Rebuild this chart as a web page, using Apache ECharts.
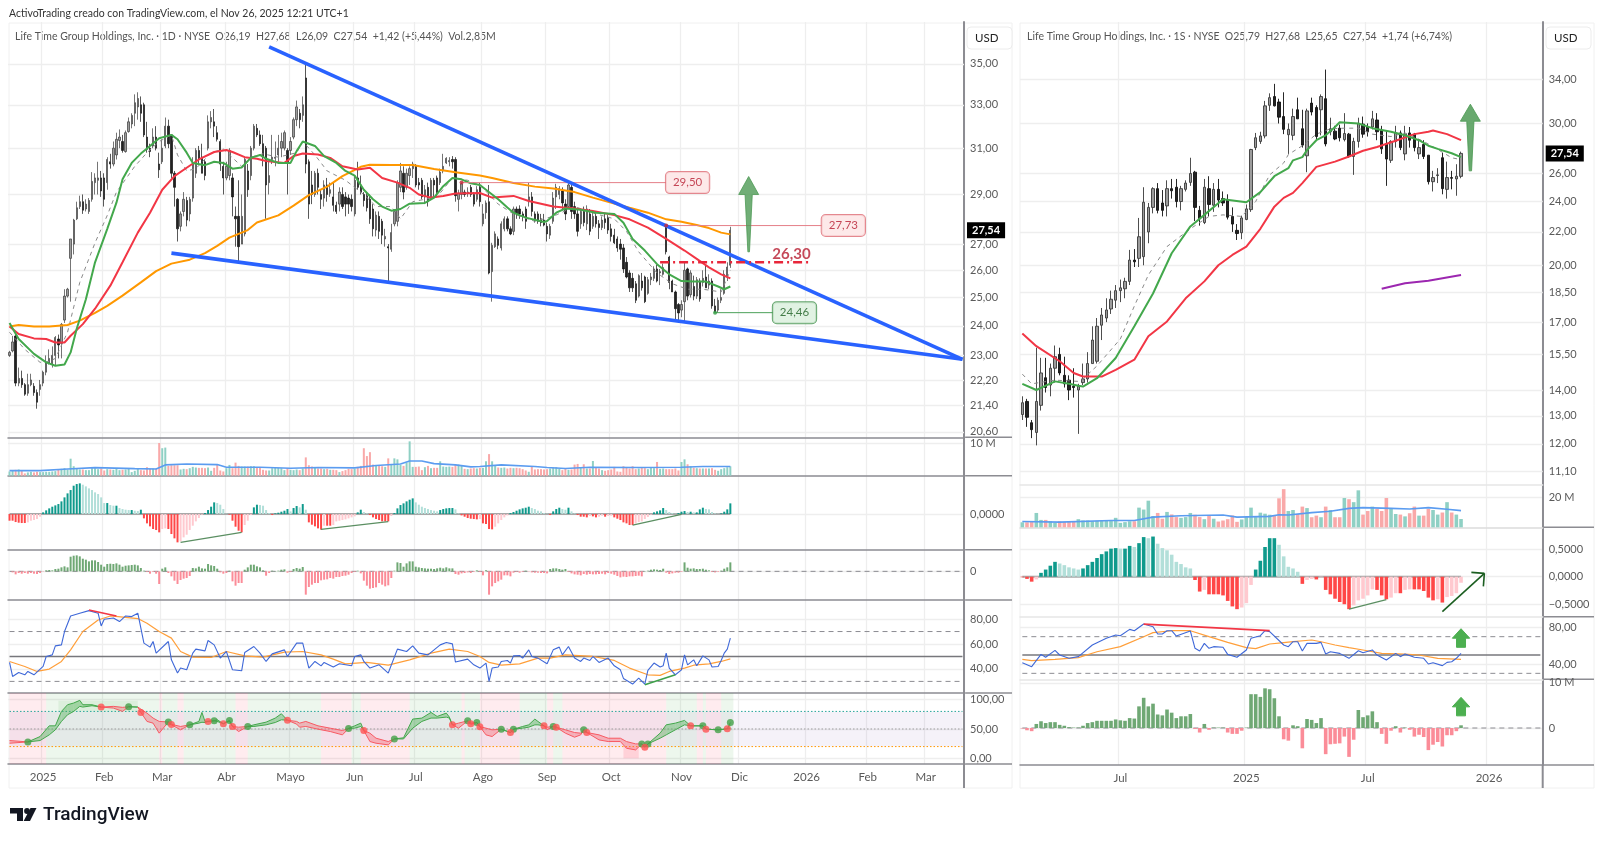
<!DOCTYPE html>
<html><head><meta charset="utf-8"><style>html,body{margin:0;padding:0;background:#fff}#c{width:1600px;height:841px}</style>
<script src="https://cdn.jsdelivr.net/npm/echarts@6/dist/echarts.min.js"></script></head><body><div id="c"></div>
<script>
// ---------- DAILY CHART DATA ([open, close, low, high]) ----------
const dailyCandles = [
[23.0,23.1,22.95,23.15],[23.15,23.45,23.1,23.65],[23.65,22.1,22.0,23.7],[22.1,22.25,22.0,22.6],[22.25,22.05,21.95,22.5],[22.05,21.75,21.7,22.1],[21.78,22.05,21.7,22.4],[22.05,22.2,22.0,22.4],[22.0,21.8,21.7,22.1],[21.8,21.5,21.3,21.9],
[21.9,22.05,21.7,22.2],[22.1,22.45,22.0,22.5],[22.45,22.75,22.35,23.0],[22.75,22.9,22.7,23.2],[22.7,23.0,22.6,23.3],[23.0,23.6,22.65,23.65],[23.55,23.35,22.9,23.7],[23.4,24.05,22.9,24.1],[24.2,25.05,24.1,25.3],[25.05,25.3,25.0,25.35],
[26.45,27.2,24.85,27.2],[27.0,27.95,26.6,28.0],[28.0,28.45,27.95,28.7],[28.5,28.7,28.4,28.95],[28.7,28.35,28.2,29.0],[28.4,28.6,28.3,28.8],[28.3,28.75,28.2,28.85],[28.8,29.55,28.7,29.95],[29.5,29.7,29.0,29.9],[29.6,29.7,29.0,30.4],
[29.7,29.15,28.9,30.0],[29.7,28.8,28.5,29.9],[29.5,30.5,29.2,30.6],[30.4,30.3,30.1,30.75],[30.3,31.0,30.2,31.3],[30.7,31.4,30.5,31.7],[31.35,31.5,31.0,31.85],[31.3,30.9,30.8,31.6],[30.85,31.7,30.8,31.8],[31.75,32.2,31.7,32.4],
[32.1,32.5,31.9,32.6],[32.6,33.1,32.0,33.5],[32.9,33.3,32.3,33.6],[33.0,32.6,32.2,33.4],[33.0,31.6,31.5,33.1],[31.5,30.95,30.8,32.2],[31.0,30.85,30.6,31.2],[31.1,31.5,31.0,31.9],[31.5,31.0,30.9,32.0],[30.3,30.05,29.7,30.8],
[30.4,31.0,30.3,31.4],[31.1,32.0,31.0,32.4],[32.0,31.2,31.0,32.3],[31.6,29.9,29.7,31.6],[29.9,29.3,28.5,30.0],[28.8,27.6,27.1,28.85],[27.7,28.2,27.5,28.3],[28.3,28.8,28.1,29.1],[28.75,27.95,27.7,28.9],[28.2,28.8,27.9,28.9],
[28.85,30.3,28.7,30.6],[29.9,30.9,29.7,31.0],[30.9,30.5,30.3,31.1],[30.6,29.9,29.9,31.2],[30.4,29.8,29.6,30.5],[31.0,32.2,30.9,32.5],[32.2,32.4,31.9,32.7],[32.2,32.0,31.5,32.8],[31.7,31.4,31.3,32.0],[31.3,30.3,30.0,31.4],
[30.2,29.7,29.0,30.4],[29.7,30.2,29.6,30.4],[29.8,30.9,29.6,31.0],[29.7,28.9,28.1,29.9],[28.1,28.0,26.9,28.5],[28.1,26.9,26.3,29.6],[27.0,28.1,27.0,29.0],[27.4,30.5,27.3,30.6],[30.0,29.2,28.9,30.3],[29.8,31.0,29.6,31.1],
[31.0,32.0,30.9,32.1],[31.9,31.6,31.5,32.1],[31.6,31.2,31.1,31.8],[31.2,30.6,30.2,31.6],[31.0,29.4,28.0,31.1],[29.5,29.8,29.0,30.4],[30.5,30.6,30.3,31.6],[30.55,30.6,30.2,31.3],[30.7,31.0,30.4,31.6],[31.0,31.3,30.6,31.7],
[31.0,31.7,30.9,31.8],[30.9,30.4,29.0,31.0],[30.9,31.3,30.7,31.5],[31.5,32.3,31.4,32.4],[32.3,32.9,32.0,33.2],[32.6,32.3,31.9,32.8],[32.5,33.0,32.2,33.4],[34.3,30.3,29.9,35.0],[30.4,28.6,28.0,30.5],[29.4,29.0,28.6,30.0],
[29.0,29.9,28.9,30.0],[29.9,29.3,29.0,30.1],[29.0,28.8,28.4,29.2],[28.85,29.4,28.5,29.6],[29.4,29.0,28.7,29.7],[29.05,29.2,28.9,29.5],[28.9,28.55,28.3,29.5],[28.55,28.3,28.2,28.7],[28.6,29.1,28.3,29.3],[29.0,28.5,28.4,29.3],
[28.9,28.6,28.1,29.1],[28.85,28.6,28.2,29.0],[28.8,28.5,28.3,29.0],[28.2,29.6,28.1,29.8],[29.7,29.3,29.2,30.4],[29.4,29.1,29.0,29.8],[29.0,28.75,28.5,29.1],[28.95,28.45,28.3,29.1],[28.8,28.0,27.8,29.0],[28.4,27.6,27.3,28.6],
[27.55,28.15,27.3,28.3],[28.1,27.5,27.2,28.3],[27.9,27.35,27.0,28.0],[27.2,27.3,26.9,27.6],[26.9,26.85,25.6,27.0],[26.8,27.45,26.7,27.8],[27.8,28.3,27.7,28.4],[27.9,29.5,27.7,29.6],[29.3,30.0,29.1,30.35],[29.9,29.1,28.8,30.2],
[29.3,29.9,29.2,30.1],[29.8,30.1,29.4,30.2],[30.1,30.3,29.7,30.4],[30.2,29.4,29.3,30.3],[29.5,29.4,29.2,29.7],[29.6,28.9,28.8,29.7],[28.9,29.2,28.6,29.4],[29.3,28.7,28.5,29.5],[28.85,29.6,28.8,29.7],[29.6,29.4,28.9,29.7],
[29.7,29.1,28.9,29.8],[29.5,29.95,29.4,30.1],[30.0,30.2,29.9,30.75],[30.35,30.55,30.3,30.6],[30.4,30.45,30.2,30.6],[30.5,30.4,30.1,30.65],[30.5,28.95,28.7,30.6],[28.8,29.05,28.3,29.2],[29.0,29.45,28.8,29.5],[29.1,29.0,28.9,29.2],
[29.05,29.1,28.9,29.3],[29.3,29.0,28.9,29.4],[29.0,28.6,28.5,29.1],[28.8,29.2,28.7,29.35],[29.3,28.7,28.5,29.5],[27.8,28.2,27.7,28.6],[28.25,28.65,28.0,28.75],[28.7,25.9,25.85,29.4],[25.95,26.95,24.85,27.05],[26.9,27.4,26.85,27.5],
[27.2,26.95,26.8,27.3],[26.85,27.8,26.75,27.9],[27.6,28.0,27.5,28.1],[28.0,27.6,27.5,28.1],[27.6,27.4,27.35,27.7],[27.5,28.4,27.35,28.5],[28.4,28.2,28.0,28.5],[28.4,28.2,28.0,28.55],[28.2,28.1,27.9,28.3],[28.4,27.9,27.6,28.5],
[28.7,28.9,28.5,29.5],[28.9,28.3,28.1,29.1],[28.2,28.0,27.85,28.3],[28.2,27.9,27.8,28.3],[28.0,27.85,27.7,28.2],[27.95,27.75,27.7,28.2],[27.7,27.4,27.1,27.85],[27.35,27.7,27.2,27.8],[27.9,28.85,27.8,29.1],[28.9,29.3,28.4,29.45],
[29.0,29.25,28.8,29.35],[29.15,28.65,28.4,29.3],[28.6,28.2,27.95,28.8],[28.5,29.4,28.4,29.5],[29.3,28.3,28.0,29.4],[28.5,28.2,28.0,28.7],[28.2,27.5,27.3,28.4],[27.8,28.3,27.6,28.4],[28.3,27.85,27.7,28.5],[27.8,28.4,27.55,28.55],
[28.2,27.5,27.35,28.4],[27.7,28.1,27.6,28.3],[28.1,27.8,27.65,28.3],[27.8,27.65,27.2,27.95],[27.65,27.95,27.55,28.1],[28.0,27.85,27.6,28.2],[28.05,27.55,27.4,28.15],[27.6,27.3,27.1,27.8],[27.35,27.05,27.0,27.6],[27.2,26.85,26.7,27.3],
[27.0,26.8,26.4,27.2],[26.85,26.05,25.9,27.0],[26.3,25.75,25.7,26.5],[25.9,25.35,25.2,26.0],[25.7,25.35,25.2,25.9],[25.5,24.9,24.8,25.6],[25.05,25.8,25.0,25.85],[25.6,25.35,25.25,25.9],[25.75,24.85,24.8,25.8],[25.15,25.65,25.1,25.75],
[25.65,25.75,25.45,25.9],[25.7,26.05,25.6,26.15],[26.05,25.6,25.55,26.2],[25.9,25.95,25.45,26.05],[25.85,26.1,25.8,26.25],[27.7,26.7,26.6,27.73],[26.5,25.55,25.3,26.55],[25.6,25.2,25.2,25.65],[25.2,24.6,24.2,25.25],[24.75,24.45,24.1,24.8],
[24.55,24.75,24.3,24.9],[24.85,26.0,24.15,26.3],[26.05,25.05,24.9,26.1],[25.1,25.9,25.0,26.0],[25.4,25.05,24.9,25.8],[25.05,25.65,24.95,25.75],[25.6,24.95,24.85,25.7],[25.55,25.7,25.4,26.0],[25.75,25.35,25.35,26.2],[25.45,25.6,25.3,25.85],
[25.6,24.7,24.6,25.7],[24.7,24.5,24.46,24.95],[24.55,24.9,24.46,25.0],[24.9,25.0,24.8,25.3],[25.15,25.85,25.1,26.0],[25.75,26.12,25.6,26.3],[26.19,27.54,26.09,27.68]];

const dailyVolumeM = [
1.3,1.6,1.8,1.9,1.5,0.7,1.0,1.2,1.0,1.2, 1.1,1.1,1.2,1.2,1.3,1.4,1.8,2.1,2.3,1.9,
5.2,2.9,2.3,1.9,1.9,1.7,1.7,2.3,2.3,2.0, 2.2,1.6,2.0,1.9,1.8,2.3,1.7,1.8,1.9,2.1,
1.1,1.5,2.3,1.7,1.6,2.6,2.1,2.2,2.2,10.0, 8.4,8.6,3.0,3.2,3.2,3.2,1.9,2.1,2.0,2.3,
2.7,2.5,2.4,2.4,2.3,2.5,1.5,2.4,3.4,1.6, 1.3,2.3,3.3,2.3,4.0,3.0,2.8,2.8,2.8,2.9,
2.9,2.4,2.6,1.8,1.6,1.6,2.3,2.5,2.4,2.3, 1.7,2.3,1.8,1.7,1.9,1.7,2.2,5.6,3.2,2.8,
2.4,2.2,2.2,2.0,2.1,1.8,1.8,1.7,1.1,1.4, 1.7,2.1,2.0,2.1,2.7,3.0,8.4,6.0,7.2,3.4,
3.2,3.0,2.9,2.7,5.3,3.6,5.3,5.0,3.3,3.0, 4.0,10.5,2.7,2.7,2.8,1.7,2.6,3.0,2.3,2.4,
2.4,4.4,2.8,2.7,2.8,2.7,3.4,3.4,3.0,2.1, 2.0,2.2,2.3,2.2,2.4,2.4,4.4,6.6,4.4,3.1,
2.5,2.4,2.5,2.2,2.4,2.3,2.4,2.3,2.0,1.6, 1.2,2.7,1.9,2.0,2.0,1.9,2.0,2.2,2.5,2.6,
2.1,1.7,2.2,1.8,1.9,3.4,3.6,2.6,3.5,2.2, 2.2,4.5,2.4,2.2,1.7,1.5,1.7,1.9,2.7,1.3,
1.2,2.9,2.5,2.2,2.9,2.0,2.2,2.4,2.3,2.0, 2.6,2.3,4.2,2.1,2.2,2.0,2.0,2.0,2.2,1.6,
4.2,5.0,3.5,2.9,2.4,2.3,2.2,2.2,2.2,2.2, 2.3,1.8,1.5,2.0,2.3,2.6,2.85];

const dailyMomentum = [
-20,-20,-24,-26,-27,-27,-25,-20,-18,-15, -8,5,11,17,22,26,30,38,50,62,
72,85,90,92,88,83,77,72,65,60, 50,33,33,27,25,25,18,15,13,12,
12,10,9,13,-13,-28,-37,-45,-48,-55, -45,-43,-45,-60,-73,-85,-82,-70,-62,-48,
-35,-22,-12,-2,3,12,22,35,33,28, 15,1,-2,-20,-38,-50,-55,-33,-20,-3,
20,28,27,25,12,3,-3,2,4,7, 10,15,8,18,24,20,30,13,-25,-32,
-37,-43,-47,-35,-35,-35,-33,-22,-20,-18, -16,-13,-10,-7,5,13,6,2,-3,-10,
-15,-18,-22,-22,-22,-6,3,17,27,32, 38,43,47,35,28,22,18,15,12,10,
8,12,15,17,18,18,14,2,-4,-8, -12,-14,-15,-16,-15,-28,-30,-45,-46,-38,
-28,-18,-10,-4,3,6,10,14,17,19, 22,18,15,10,8,3,1,-3,8,15,
19,15,13,19,8,2,-3,-8,-8,-10, -6,-7,-10,-8,-5,-8,-6,-5,-10,-14,
-18,-25,-28,-33,-33,-28,-24,-22,-15,-9, -2,5,8,11,18,12,6,3,1,3,
7,9,6,7,5,5,14,19,15,14, 6,2,1,2,7,14,32];

const dailyOscillator = [
0,-3,-9,-5,-7,-5,-7,-5,-7,-8, -5,-1,3,4,3,7,8,12,15,12,
44,47,48,45,38,35,30,33,33,28, 20,14,22,23,22,24,20,14,17,18,
19,20,18,10,2,-2,-7,-2,-7,-38, 8,12,-5,-15,-28,-38,-26,-22,-20,-14,
10,9,14,9,8,22,18,16,8,-3, -7,-5,2,-30,-43,-35,-35,5,12,20,
20,15,12,3,-13,-5,2,1,2,5, 6,-4,-2,7,10,8,13,-70,-47,-40,
-35,-35,-27,-25,-24,-20,-22,-17,-17,-14, -13,-10,-5,-2,2,-6,-28,-43,-52,-50,
-48,-35,-40,-45,-42,-20,2,27,25,14, 24,30,30,14,12,10,9,8,8,7,
9,11,9,12,9,9,-8,-10,-6,-5, -3,-5,-2,3,-2,-12,3,-70,-45,-35,
-30,-25,-12,-12,-15,-4,-2,-4,-2,2, -1,-3,-4,-4,-5,-5,-6,7,9,9,
7,5,7,-2,-6,-9,-10,-12,-8,-10, -8,-9,-9,-8,-7,-9,-5,-7,-10,-14,
-18,-16,-17,-15,-15,-14,-13,-15,1,2, 5,6,5,4,8,-4,-8,-6,-4,-4,
-2,27,11,8,9,7,7,8,5,3, -2,-3,-2,2,8,12,27];

// moving averages: sparse [bar, price] vertices
const dailyGreenMA = [[0,24.1],[3,23.55],[8,23.05],[12,22.77],[15,22.66],[18,22.7],[20,23.1],[22,23.9],[25,24.94],[28,26.3],[32,27.6],[35,28.66],[37,29.64],[40,30.35],[43,30.76],[46,31.1],[49,31.45],[53,31.6],[55,31.4],[58,30.8],[60,30.35],[64,30.25],[67,30.4],[70,30.35],[73,30.1],[76,30.15],[79,30.57],[82,30.7],[84,30.53],[88,30.35],[92,30.35],[94,30.87],[96,31.3],[100,31.1],[103,30.65],[107,30.35],[110,30.0],[113,29.8],[116,29.2],[119,28.8],[122,28.5],[125,28.33],[128,28.4],[131,28.62],[136,28.65],[139,28.87],[142,29.35],[145,29.7],[148,29.64],[151,29.47],[154,29.4],[156,29.2],[160,28.8],[163,28.46],[165,28.25],[169,28.05],[175,27.87],[176,27.91],[179,28.25],[182,28.42],[187,28.37],[192,28.25],[198,28.2],[201,27.84],[204,27.2],[208,26.75],[212,26.23],[216,25.85],[220,25.6],[224,25.58],[228,25.58],[232,25.4],[234,25.3],[236,25.4]];
const dailyRedMA = [[0,23.98],[3,23.72],[8,23.57],[12,23.55],[15,23.43],[18,23.43],[20,23.66],[24,24.06],[28,24.6],[33,25.43],[37,26.3],[42,27.45],[46,28.25],[50,29.2],[54,29.78],[58,30.14],[62,30.5],[67,30.83],[71,30.92],[73,30.83],[77,30.6],[81,30.53],[84,30.43],[90,30.35],[93,30.65],[96,30.76],[101,30.72],[105,30.57],[109,30.2],[114,30.06],[118,30.14],[122,29.7],[127,29.5],[131,29.28],[134,29.0],[138,28.87],[142,28.94],[146,29.04],[154,29.06],[158,28.87],[165,28.94],[170,28.73],[178,28.5],[185,28.42],[191,28.32],[198,28.15],[203,27.98],[209,27.65],[215,27.2],[221,26.75],[225,26.43],[229,26.11],[233,25.85],[236,25.7]];
const dailyOrangeMA = [[0,23.98],[3,24.03],[8,23.98],[13,23.98],[19,24.03],[23,24.18],[28,24.45],[32,24.7],[37,25.07],[43,25.55],[48,25.97],[53,26.25],[59,26.4],[64,26.65],[68,26.93],[72,27.25],[78,27.55],[81,27.85],[88,28.14],[93,28.54],[98,28.97],[104,29.33],[109,29.78],[115,30.18],[118,30.27],[125,30.26],[132,30.26],[139,30.08],[146,29.94],[154,29.8],[158,29.7],[165,29.48],[172,29.33],[178,29.25],[185,29.1],[191,28.87],[198,28.62],[203,28.45],[209,28.25],[215,27.98],[220,27.88],[225,27.75],[229,27.63],[233,27.45],[236,27.38]];
const dailyGreyMA = [[0,23.78],[5,23.2],[10,22.77],[13,22.8],[15,22.9],[19,23.78],[23,25.55],[28,27.05],[32,28.14],[35,29.1],[41,30.2],[45,30.8],[49,31.3],[53,31.6],[55,30.7],[58,30.0],[61,30.1],[66,30.8],[70,30.96],[76,30.2],[79,30.6],[83,30.75],[88,30.6],[94,30.8],[96,31.3],[100,30.7],[104,30.0],[110,29.6],[116,29.0],[120,28.5],[125,28.5],[128,28.0],[132,28.7],[140,28.9],[145,29.7],[150,29.6],[154,29.4],[160,28.6],[165,28.2],[172,27.9],[178,28.1],[185,28.5],[192,28.2],[198,28.0],[202,27.5],[206,26.7],[212,25.9],[217,25.5],[222,25.3],[227,25.3],[233,25.2],[236,26.0]];
const dailyVolumeMA = [[0,1.55],[10,1.55],[19,2.06],[28,2.47],[41,2.16],[48,2.06],[51,3.3],[58,3.6],[68,3.4],[71,2.6],[82,2.6],[92,2.3],[101,2.5],[113,2.4],[120,3.1],[128,3.6],[131,4.5],[135,4.5],[139,3.7],[146,3.3],[151,2.7],[154,2.8],[161,3.3],[172,2.8],[176,2.5],[182,2.2],[190,2.6],[206,2.5],[220,2.6],[227,2.8],[236,2.8]];

const dailyRsi = [[0,45.2],[1,34],[3,37.2],[5,35.3],[6,38],[8,35.3],[11,42],[12,50],[14,51.3],[15,58.5],[17,59.3],[18,70],[20,82.5],[23,84.7],[26,86.8],[29,84.7],[30,74.5],[31,79.9],[34,80.9],[36,78],[38,82.5],[40,82],[42,84.7],[44,60.7],[46,57.5],[47,62],[48,52.7],[52,62],[53,47.3],[55,36.7],[56,40.7],[58,39.3],[60,52.7],[61,55.9],[64,54.5],[65,62.8],[67,59.3],[69,48.7],[71,54],[73,39.3],[76,38.5],[77,53.2],[80,58],[82,52.7],[84,46],[86,52.1],[90,55.3],[91,50],[94,60.7],[96,60.7],[98,40.7],[100,46],[102,42.5],[103,45.2],[106,41.5],[108,44.1],[112,42.5],[113,50],[115,51.3],[116,46],[118,40.7],[121,43.3],[124,36.7],[127,55.9],[130,54],[132,58.5],[134,52.7],[137,51.3],[141,59.3],[143,61.2],[145,60.1],[146,45.5],[150,47.9],[152,43.3],[154,40.7],[156,44.7],[157,30],[158,40.7],[160,41.5],[161,46],[163,46.8],[164,44.7],[165,50.5],[167,50.8],[168,48.7],[170,55.3],[171,50],[173,48.7],[176,44.1],[178,55.3],[180,57.5],[181,51.3],[183,58],[185,48.7],[187,46],[188,48.7],[190,46.8],[191,50],[193,45.2],[196,48.7],[198,42.5],[200,39.3],[201,32.4],[204,27.9],[206,32.7],[208,27.9],[209,38.8],[211,44.7],[213,41.5],[214,42.5],[215,52.7],[216,40.7],[218,35.3],[220,39.3],[221,51.3],[222,43.3],[224,47.3],[225,42.5],[227,50.5],[229,47.3],[230,41.5],[232,42],[233,46.8],[234,52.7],[235,55.9],[236,64.7]];
const dailyRsiMA = [[0,46],[5,42],[9,38],[13,39.9],[17,46],[20,55.3],[24,70],[29,79.3],[33,82.5],[38,81.4],[42,80.4],[45,76.7],[49,70],[53,64.7],[56,54],[60,49.5],[66,49.2],[71,54],[77,50.5],[83,49.5],[90,53.5],[96,54],[102,51.3],[106,47.9],[110,44.1],[117,45.2],[124,43],[131,47.3],[138,52.7],[144,55.9],[150,54],[154,50],[157,45.2],[161,43],[167,44.1],[173,48.7],[177,48.7],[182,51.3],[191,50],[198,46.8],[203,40.7],[209,35.3],[213,34.8],[216,38],[221,40.7],[224,43],[229,44.1],[233,46],[236,48.1]];

// stochastic pane: bar, %K, %D
const stochBars = [0,6,10,13,15,17,19,21,23,24,27,30,34,37,39,42,43,45,47,49,52,53,56,59,62,63,64,65,67,68,70,72,73,75,78,80,84,87,89,91,94,95,97,101,105,109,111,113,115,116,118,120,124,126,129,132,135,138,140,143,144,145,147,150,151,153,154,156,158,161,164,165,168,170,172,173,175,176,178,179,182,185,187,188,189,193,196,200,202,205,207,208,209,213,215,218,221,223,227,228,232,235,236];
const stochK = [25.7,28,37.1,55.4,55.4,80,91.4,94.3,98.9,91.4,91.4,87.4,85.7,80,88,87.4,78.3,62.9,60,42.9,62,57.1,48.6,57.1,62.9,78.3,62.9,63,64,65.7,59,64.3,54.3,45.7,54.3,57.1,61.7,68.6,76,65,58.3,53,54.3,49.7,45.7,40,51,55.4,60,47.4,28.6,25.7,22.9,33.1,35,66.9,68.6,78.3,71.4,77.1,70.3,57.1,51.4,64,58,61,54,40,37.1,49.7,44,49.7,54.3,57.1,66.9,62.9,55.4,48.6,54.3,53,42.9,36,40,48.6,44,31.4,28.6,28.6,17.1,14.3,24.6,18.9,24.6,42.9,57.1,60,64.6,55.4,55.4,49.7,48.6,50.3,61];
const stochD = [30.3,28,30.3,40,48.6,62.9,74.3,80,88.6,87.4,89.7,87.4,88.6,86.9,88,87.4,84,77.1,68.6,62.9,62,58,54.3,57.1,60,61.5,61.1,63,64,62.9,59,64,54.3,53.1,54.3,54.3,57.1,61.1,65.7,65,62.9,60,62.9,55.4,51.4,47.4,51,51.4,54.3,47.4,42.9,34.3,28.6,33.1,33,51.4,62.9,68.6,68.6,70.3,68.6,57.1,60,64,60,61,54,51.4,48.6,49.7,44,49.7,51.4,53.1,57.1,57.1,55.4,53.1,54.3,53,48.6,44,42.9,48.6,44,40,34.3,34.3,28.6,24.6,24.6,18.9,24.6,34.3,40,48.6,57.1,55.4,55.4,49.7,48.6,50.3,50.3];
const stochGreenDots = [[6,28],[39,88],[52,62],[59,57.1],[67,64],[72,64.3],[78,54.3],[111,51],[126,33.1],[150,64],[153,61],[161,49.7],[165,49.7],[178,54.3],[188,48.6],[207,24.6],[209,24.6],[227,55.4],[232,48.6],[236,61]];
const stochRedDots = [[30,87.4],[43,78.3],[53,57.5],[65,63],[70,59],[73,54.3],[91,65],[116,47.4],[145,57.1],[151,59],[154,54],[164,44],[175,55.4],[179,53],[189,44],[208,18.9],[223,55.4],[228,49.7],[235,50.3]];
// [first bar, last bar, kind] of the tinted backgrounds
const stochZones = [[0,11,'r'],[12,48,'g'],[49,49,'r'],[50,54,'g'],[55,56,'r'],[57,73,'g'],[74,77,'r'],[78,101,'g'],[102,111,'r'],[112,114,'g'],[115,130,'r'],[131,147,'g'],[148,148,'r'],[149,153,'g'],[154,166,'r'],[167,175,'g'],[176,177,'r'],[178,180,'g'],[181,214,'r'],[215,224,'g'],[225,226,'r'],[227,227,'g'],[228,232,'r'],[233,236,'g']];

// chart annotations (daily)
const upperTrend = [[85,35.87],[312,22.87]];
const lowerTrend = [[53,26.65],[312,22.87]];
const level2950 = [[148,29.5],[215,29.5]];
const level2773 = [[215,27.73],[266,27.73]];
const level2446 = [[231,24.46],[250,24.46]];
const level2630 = [[213,26.3],[262,26.3]];
const calloutsRed = [[222,29.5],[273,27.73]];
const calloutsGreen = [[257,24.46]];
const dailyArrow = [[242,29.76,26.7]];
const dailyDivergences = [[[56,-85],[76,-55]],[[102,-46],[124,-23]],[[204,-33],[220,-1]]];
const dailyRsiRed = [[26,87.3],[35,82.5]];
const dailyRsiGreen = [[208,27.3],[218,35.3]];

// axis ticks (daily)
const dailySlotCount = 313;
const dailyLastBar = 236;
const dailyTickBars = [11,31,50,71,92,113,133,155,176,197,220,239,261,281,300];
const dailyTickLabels = ['2025','Feb','Mar','Abr','Mayo','Jun','Jul','Ago','Sep','Oct','Nov','Dic','2026','Feb','Mar'];
const dailyPriceTicks = [35,33,31,29,27,26,25,24,23,22.2,21.4,20.6];

// ---------- WEEKLY CHART DATA ([open, close, low, high]) ----------
const weeklyCandles = [
[13.05,13.5,12.85,13.75],[13.55,12.95,12.6,13.65],[12.75,12.5,12.2,12.85],[12.4,13.55,11.95,15.8],[13.4,14.7,13.2,15.35],[14.5,14.1,13.9,15.35],[14.2,14.9,13.75,15.1],[14.9,15.4,14.3,15.9],[15.5,14.7,14.6,15.8],[14.6,14.25,14.1,15.4],
[14.4,14.0,13.6,14.6],[14.15,14.1,13.7,14.9],[14.0,14.15,12.35,14.25],[14.3,14.45,14.2,15.1],[14.45,15.1,14.3,15.6],[15.1,16.15,15.1,16.8],[15.2,16.8,15.1,17.2],[16.85,17.35,16.15,17.7],[17.2,17.6,17.0,18.2],[17.65,18.15,17.4,18.6],
[18.1,18.6,17.7,18.9],[18.6,18.75,18.0,19.2],[18.7,19.1,18.2,19.3],[19.1,20.3,18.9,20.9],[20.3,20.2,19.9,20.95],[20.4,21.7,19.9,22.9],[20.5,23.95,20.0,25.0],[22.0,23.6,21.3,23.9],[23.6,24.9,23.2,25.0],[24.9,23.4,23.2,25.3],
[23.9,23.4,23.0,24.8],[23.7,24.9,23.0,25.5],[24.9,24.75,24.2,25.6],[25.0,24.0,23.6,25.6],[24.0,24.9,23.4,25.1],[24.85,25.3,24.7,25.5],[25.35,26.0,25.1,27.2],[26.1,23.6,22.7,26.2],[23.4,22.85,22.4,23.7],[22.6,25.0,22.5,25.6],
[24.9,23.8,23.0,25.8],[23.75,24.85,23.3,25.3],[24.85,24.1,23.6,25.6],[24.2,23.9,23.7,24.7],[24.1,22.95,22.8,24.5],[23.0,22.5,22.0,23.6],[22.1,21.9,21.5,22.5],[21.95,22.9,21.55,23.05],[22.8,23.5,22.75,23.8],[23.45,27.85,23.3,27.9],
[28.0,28.8,27.8,29.2],[28.5,28.95,28.3,29.3],[28.95,31.55,28.75,32.0],[31.6,32.3,31.1,32.7],[32.4,31.55,31.5,33.6],[31.9,30.55,30.0,32.2],[30.6,29.5,29.1,32.8],[29.05,29.5,27.5,30.0],[29.0,30.6,28.6,31.3],[31.2,30.4,30.4,32.3],
[29.55,28.2,28.0,31.2],[27.35,31.1,26.1,31.3],[31.8,31.0,30.7,32.3],[31.4,28.9,28.6,31.6],[31.2,32.4,29.0,32.6],[32.2,28.3,28.1,35.0],[29.3,29.55,29.0,30.5],[29.35,28.7,28.6,29.8],[29.6,28.8,28.5,29.9],[28.65,29.15,28.5,30.9],
[29.1,27.3,27.2,29.2],[27.3,28.5,25.9,28.8],[28.5,30.0,28.0,30.5],[29.95,29.1,28.8,30.6],[29.7,29.3,28.9,30.0],[29.7,30.4,29.5,31.1],[30.3,29.3,28.6,30.9],[29.4,27.9,27.5,29.8],[28.3,27.1,25.1,29.4],[27.0,28.5,26.8,28.6],
[28.5,29.2,28.0,29.8],[29.2,28.0,27.8,29.4],[27.5,29.1,27.0,29.8],[29.2,28.6,28.0,29.7],[29.1,28.0,27.7,29.2],[27.5,28.0,27.1,28.6],[28.25,27.3,27.1,28.6],[27.4,25.4,25.2,27.4],[25.4,25.7,24.7,26.2],[25.85,25.9,25.3,26.4],
[27.2,24.9,24.5,27.6],[24.85,25.7,24.2,26.9],[25.7,25.65,24.85,26.2],[25.6,25.8,24.4,26.7],[25.79,27.54,25.65,27.68]];

const weeklyVolumeM = [
3.4,3.4,3.7,9.7,5,5,4.1,3,4.1,3.7, 3.9,3.7,5.5,4.6,4.6,4.1,4.4,4.6,4.6,4.4,
6.4,3,3.5,4.1,4.1,13.3,12,18,7.6,9.7, 5.8,10.4,8.7,6.9,6.4,6.9,9.7,8.5,6.9,5.5,
8,5.8,3.9,4.6,5.5,8,3.7,5.3,6.9,13.3, 6.9,9.9,9.2,8.5,8.3,19.6,25.8,11,11.7,9,
14,13,6.8,7.9,6.8,14,11.7,6.8,6.8,19.8, 19,17,25,8.6,11,14,12.4,11,19.8,12.4,
9,8.6,7.4,9.5,14,7.9,7.9,12.4,11.7,8.6, 10,17,10,8.6,5.6];
const weeklyMomentum = [
-0.01,-0.04,-0.09,-0.05,0.07,0.13,0.2,0.27,0.24,0.21, 0.17,0.15,0.13,0.15,0.21,0.27,0.34,0.41,0.46,0.51,
0.52,0.51,0.51,0.56,0.54,0.61,0.72,0.7,0.73,0.6, 0.52,0.48,0.4,0.27,0.23,0.17,0.15,-0.06,-0.27,-0.24,
-0.32,-0.32,-0.32,-0.34,-0.44,-0.54,-0.59,-0.56,-0.48,-0.15, 0.13,0.29,0.54,0.7,0.7,0.58,0.37,0.18,0.15,0.09,
-0.13,-0.06,-0.04,-0.05,-0.01,-0.24,-0.32,-0.4,-0.46,-0.5, -0.59,-0.52,-0.43,-0.4,-0.34,-0.23,-0.24,-0.34,-0.41,-0.38,
-0.3,-0.3,-0.24,-0.23,-0.23,-0.23,-0.26,-0.38,-0.43,-0.41, -0.47,-0.37,-0.35,-0.3,-0.11];
const weeklyVolumeOscM = [
-0.1,-0.5,-0.7,0.9,1.5,1.1,1.3,1.3,0.7,0.5, 0.2,0.1,0.1,0.5,1.1,1.3,1.6,1.6,1.6,1.6,
1.9,1.7,1.6,2.2,2.1,4.8,6.7,4.8,5.4,3, 2.8,4.1,3.4,2.2,2.6,2.6,3.1,-0.2,-1,0.9,
-0.4,0.1,0.1,0.1,-1,-1.3,-1.3,-0.6,0.1,7.5, 7.5,6.9,8.8,8.6,6.6,2.6,-2.5,-2.8,0.6,0.4,
-4.5,2,1.8,1.1,2.2,-5.8,-3.6,-3.5,-3.4,-1.9, -6.4,-2.6,4,2.4,2.8,3.7,1.3,-1.3,-3.5,-0.6,
0.4,-1,0.1,-0.4,-1.9,-1.5,-2,-4.9,-3.7,-3.1, -4.1,-1.6,-1.6,-0.7,0.6];

const weeklyGreenMA = [[0,14.25],[3,14],[7,14.35],[10,14.25],[12,14.17],[13,14.14],[16,14.48],[20,15.34],[24,16.8],[28,18.45],[32,20.7],[36,22.35],[39,23.1],[43,24.15],[48,23.95],[51,24.65],[54,25.8],[57,26.4],[58,27],[60,27.25],[61,27.8],[63,28.6],[65,29],[67,29.7],[68,30.1],[72,30],[75,29.6],[79,29.3],[82,29],[85,28.6],[87,28.15],[89,27.9],[92,27.55],[94,27.25]];
const weeklyRedMA = [[0,16.45],[3,15.87],[8,15.2],[11,14.7],[13,14.55],[17,14.55],[20,14.83],[24,15.27],[27,16.33],[31,17.03],[35,18.2],[39,19.1],[42,20],[45,20.6],[48,21.1],[51,22.2],[54,23.65],[56,24.25],[58,24.6],[60,25.3],[63,26.5],[67,26.9],[70,27.3],[73,27.75],[76,28.05],[80,28.55],[84,29.1],[87,29.3],[88,29.4],[91,29.1],[94,28.6]];
const weeklyGreyMA = [[0,14.65],[2,14.25],[7,14.4],[12,14.35],[13,14.45],[16,15],[21,16.2],[24,17.8],[27,19.45],[31,21.1],[36,22.2],[40,23],[43,23.1],[47,23],[50,24],[53,25.9],[56,26.8],[57,27.45],[60,28.15],[63,29.1],[66,29.55],[69,29.6],[72,29.6],[75,29.1],[79,28.9],[82,29.2],[86,28.5],[89,27.85],[92,27.2],[94,27.05]];
const weeklyPurpleMA = [[77,18.7],[82,19.0],[87,19.14],[94,19.45]];
const weeklyVolumeMA = [[0,3.9],[8,3.5],[19,4.6],[24,4.6],[28,6.9],[34,7.8],[43,8.3],[46,6.9],[53,7.4],[55,8.5],[57,8.3],[62,9.9],[66,10.8],[70,12.8],[73,13.3],[79,12.8],[83,12.4],[87,13.3],[91,12.2],[94,11.3]];
const weeklyRsi = [[0,41.6],[2,37.3],[4,50.7],[5,47.5],[7,55.1],[8,50],[10,46.4],[12,48.2],[15,60.9],[18,68.2],[20,71.8],[21,71.1],[23,78],[24,76.5],[26,83.8],[28,80.9],[29,72.9],[30,72.9],[31,76.5],[32,76.5],[33,70.7],[36,76.2],[37,57.3],[38,54.4],[39,62.7],[40,57.3],[41,59.1],[43,58.4],[44,50.7],[46,47.5],[48,55.5],[49,68.2],[51,71.1],[52,76.5],[53,75.5],[56,60.9],[57,59.1],[58,64.5],[59,64.5],[60,54.4],[61,62.7],[63,62.7],[64,63.8],[65,51.1],[66,53.6],[68,51.8],[70,46.4],[72,54.7],[73,52.5],[75,55.5],[76,50],[78,44.5],[80,51.8],[81,48.2],[82,51.1],[84,47.5],[86,46.4],[87,40.2],[88,41.6],[90,38.4],[91,42],[92,42.7],[93,46.4],[94,51.8]];
const weeklyRsiMA = [[0,45.3],[2,43.8],[7,45.3],[12,47.1],[16,53.6],[21,59.1],[26,70],[28,74.4],[32,76.5],[36,76.5],[40,70],[44,63.8],[48,58],[50,56.9],[53,62],[56,63.5],[58,64.5],[62,66.4],[64,64.5],[67,60.9],[70,58],[73,55.5],[77,51.8],[82,51.1],[85,50],[89,46.4],[94,45.3]];

const weeklyArrowPrice = [[96,31.7,26.2]];
const weeklyArrowRsi = [[94,78.7,58.4]];
const weeklyArrowOsc = [[94,6.8,2.7]];
const weeklyMomentumArrow = [[90,-0.634,99,0.06]];
const weeklyDivergence = [[70,-0.59],[78,-0.415]];
const weeklyRsiRed = [[26,83.8],[53,76.5]];

const weeklySlotCount = 112;
const weeklyLastBar = 94;
const weeklyTickBars = [21,48,74,100];
const weeklyTickLabels = ['Jul','2025','Jul','2026'];
const weeklyPriceTicks = [34,30,26,24,22,20,18.5,17,15.5,14,13,12,11.1];
const lastPrice = 27.54;

const dailyTitle = 'Life Time Group Holdings, Inc. · 1D · NYSE  O26,19  H27,68  L26,09  C27,54  +1,42 (+5,44%)  Vol.2,85M';
const weeklyTitle = 'Life Time Group Holdings, Inc. · 1S · NYSE  O25,79  H27,68  L25,65  C27,54  +1,74 (+6,74%)';
const headerText = 'ActivoTrading creado con TradingView.com, el Nov 26, 2025 12:21 UTC+1';

// ---------- BUILD ----------
const FONT = 'Lato, "Noto Sans", sans-serif';
const GRID = '#eeeeee', SEP = '#8c8c92', TXT = '#5a5a5a';
const fmt2 = v => v.toFixed(2).replace('.', ',');
const chart = echarts.init(document.getElementById('c'), null, {renderer: 'canvas'});

const grids = [], xAxes = [], yAxes = [], series = [];
function addPane(g, cfg) {
  const i = grids.length;
  grids.push({left: g.left, width: g.width, top: cfg.top, height: cfg.bottom - cfg.top, containLabel: false});
  const slots = Array.from({length: g.slots}, (_, k) => String(k));
  const tickSet = {};
  g.tickBars.forEach((b, k) => tickSet[b] = g.tickLabels[k]);
  xAxes.push({
    type: 'category', gridIndex: i, data: slots, boundaryGap: true,
    axisLine: {show: true, onZero: false, lineStyle: {color: cfg.sep || SEP, width: 1.5}},
    axisTick: {show: false},
    axisLabel: {show: !!cfg.showX, color: TXT, fontSize: 11.5, margin: 7, interval: k => k in tickSet, formatter: v => tickSet[+v] || ''},
    splitLine: {show: true, interval: k => k in tickSet, lineStyle: {color: GRID, width: 1.3}}
  });
  const y = cfg.log
    ? {type: 'log', logBase: Math.E, min: cfg.min, max: cfg.max, axisLabel: {show: false}, splitLine: {show: false}, axisTick: {show: false}}
    : {type: 'value', min: cfg.min, max: cfg.max,
       axisTick: {show: false, customValues: cfg.ticks},
       axisLabel: {show: true, customValues: cfg.ticks, color: TXT, fontSize: 11, margin: 6, formatter: cfg.label},
       splitLine: {show: true, lineStyle: {color: GRID, width: 1.3}}};
  y.gridIndex = i; y.position = 'right';
  y.axisLine = {show: true, onZero: false, lineStyle: {color: SEP, width: 2}};
  yAxes.push(y);
  return i;
}
const L = {left: 8, width: 956, slots: dailySlotCount, tickBars: dailyTickBars, tickLabels: dailyTickLabels};
const R = {left: 1020, width: 522.7, slots: weeklySlotCount, tickBars: weeklyTickBars, tickLabels: weeklyTickLabels};
const rsiL = v => ({80:'80,00',60:'60,00',40:'40,00'}[v] || '');

const pL0 = addPane(L, {top: 22, bottom: 437.3, log: true, min: 20.44, max: 37.18});
const pL1 = addPane(L, {top: 437.3, bottom: 475.7, min: 0, max: 11.74, ticks: [10], label: () => '10 M'});
const pL2 = addPane(L, {top: 475.7, bottom: 549.7, min: -107, max: 115, ticks: [0], label: () => '0,0000'});
const pL3 = addPane(L, {top: 549.7, bottom: 600, min: -86, max: 65, ticks: [0], label: () => '0'});
const pL4 = addPane(L, {top: 600, bottom: 693, min: 20.7, max: 95.3, ticks: [40,60,80], label: rsiL});
const pL5 = addPane(L, {top: 693, bottom: 764, min: -9.7, max: 111.4, ticks: [0,50,100], label: v => fmt2(v), showX: true});
const pR0 = addPane(R, {top: 22, bottom: 485, log: true, min: 10.67, max: 40.1, sep: '#e6e6e6'});
const pR1 = addPane(R, {top: 485, bottom: 527.3, min: 0, max: 28.6, ticks: [20], label: () => '20 M', sep: '#dcdcdc'});
const pR2 = addPane(R, {top: 527.3, bottom: 616.7, min: -0.727, max: 0.898, ticks: [-0.5,0,0.5], label: v => v === 0 ? '0,0000' : (v > 0 ? '0,5000' : '−0,5000'), sep: '#e6e6e6'});
const pR3 = addPane(R, {top: 616.7, bottom: 679.3, min: 23.5, max: 91.8, ticks: [40,80], label: rsiL, sep: '#e6e6e6'});
const pR4 = addPane(R, {top: 679.3, bottom: 765, min: -8.2, max: 10.8, ticks: [0,10], label: v => v === 10 ? '10 M' : '0', showX: true});

function lineS(p, data, color, width, type, z) {
  series.push({type: 'line', xAxisIndex: p, yAxisIndex: p, data, symbol: 'none', silent: true, animation: false, z: z || 4,
    lineStyle: {color, width, type: type || 'solid'}, clip: true});
}
function hline(p, v, endBar, color, width, type, startBar) { lineS(p, [[startBar || 0, v], [endBar, v]], color, width, type, 1); }

function candles(p, data, ticks, bw, bdw) {
  series.push({type: 'candlestick', xAxisIndex: p, yAxisIndex: p, data, barWidth: bw, animation: false, silent: true, z: 3,
    itemStyle: {color: '#9c9c9c', color0: '#222', borderColor: '#3a3a3a', borderColor0: '#111', borderWidth: bdw},
    markLine: {symbol: 'none', silent: true, animation: false, z: 1,
      lineStyle: {color: GRID, width: 1.3, type: 'solid'},
      label: {position: 'end', color: TXT, fontSize: 11, distance: 6},
      data: ticks.map(v => ({yAxis: v, label: {formatter: fmt2(v)}}))}});
  series.push({type: 'line', xAxisIndex: p, yAxisIndex: p, data: [], animation: false, silent: true, z: 20,
    markLine: {symbol: 'none', silent: true, animation: false, z: 20,
      lineStyle: {color: 'transparent'},
      label: {position: 'end', color: '#fff', fontSize: 11, fontWeight: 'bold', backgroundColor: '#000', padding: [3, 5, 2, 5], distance: 3},
      data: [{yAxis: lastPrice, label: {formatter: fmt2(lastPrice)}}]}});
}
function bars(p, data, bw, colorFn) {
  series.push({type: 'bar', xAxisIndex: p, yAxisIndex: p, data, barWidth: bw, animation: false, silent: true, z: 2,
    itemStyle: {color: prm => colorFn(prm.dataIndex)}});
}
const volColor = c => i => c[i][1] >= c[i][0] ? '#8fd0c4' : '#f9a9a9';
const momColor = a => i => {
  const v = a[i], q = i ? a[i - 1] : 0;
  return v >= 0 ? (v >= q ? '#0f9a8c' : '#b2dfd9') : (v <= q ? '#ff4747' : '#ffc9cf');
};
const oscColor = a => i => a[i] >= 0 ? '#6fa874' : '#fb8c98';

// block arrow
function arrow(p, data, color, opacity, hw, hh, sw, tail) {
  series.push({type: 'custom', xAxisIndex: p, yAxisIndex: p, data, animation: false, silent: true, z: 6, clip: false,
    encode: {x: 0, y: [1, 2]},
    renderItem: (_, api) => {
      const t = api.coord([api.value(0), api.value(1)]), b = api.coord([api.value(0), api.value(2)]);
      const x = t[0], y0 = t[1], y1 = t[1] + hh;
      return {type: 'polygon', shape: {points: [[x, y0], [x + hw, y1], [x + sw, y1], [x + tail, b[1]], [x - tail, b[1]], [x - sw, y1], [x - hw, y1]]},
        style: {fill: color, opacity, stroke: color, lineWidth: 1}};
    }});
}

// ---- left pane 0
candles(pL0, dailyCandles, dailyPriceTicks, 1.8, 0.7);
lineS(pL0, dailyGreyMA, '#8a8a8a', 1, [4, 4], 4);
lineS(pL0, dailyOrangeMA, '#ff9800', 2);
lineS(pL0, dailyRedMA, '#f23645', 2);
lineS(pL0, dailyGreenMA, '#43a84c', 2);
lineS(pL0, upperTrend, '#2962ff', 3.6, 'solid', 7);
lineS(pL0, lowerTrend, '#2962ff', 3.6, 'solid', 7);
lineS(pL0, level2950, '#e57f88', 1, 'solid', 5);
lineS(pL0, level2773, '#e57f88', 1, 'solid', 5);
lineS(pL0, level2446, '#4ba15a', 1, 'solid', 5);
lineS(pL0, level2630, '#e8263a', 2.4, [9, 4, 2, 4], 8);
arrow(pL0, dailyArrow, '#4d9a55', 0.8, 10, 18, 3.6, 0.8);
const callout = (data, bg, bd, fg) => series.push({type: 'scatter', xAxisIndex: pL0, yAxisIndex: pL0, data, symbolSize: 1, animation: false, silent: true, z: 9,
  itemStyle: {color: 'transparent'},
  label: {show: true, position: 'inside', formatter: prm => fmt2(prm.value[1]), color: fg, fontSize: 11.5, backgroundColor: bg, borderColor: bd, borderWidth: 1, borderRadius: 4, padding: [5, 7, 4, 7]}});
callout(calloutsRed, '#fde3e4', '#dd6a73', '#b71c30');
callout(calloutsGreen, '#d9efdc', '#3d8f49', '#1b5e20');
series.push({type: 'scatter', xAxisIndex: pL0, yAxisIndex: pL0, data: [[256, 26.6]], symbolSize: 1, animation: false, silent: true, z: 9, itemStyle: {color: 'transparent'},
  label: {show: true, position: 'inside', formatter: '26,30', color: '#b71c30', fontSize: 15, fontWeight: 'bold'}});
series.push({type: 'scatter', xAxisIndex: pL0, yAxisIndex: pL0, data: [level2950[0], level2773[0]], symbolSize: 4, animation: false, silent: true, z: 9, itemStyle: {color: '#c62838'}});
series.push({type: 'scatter', xAxisIndex: pL0, yAxisIndex: pL0, data: [level2446[0]], symbolSize: 4, animation: false, silent: true, z: 9, itemStyle: {color: '#2e9b3e'}});

// ---- left pane 1-3
bars(pL1, dailyVolumeM, 2, volColor(dailyCandles));
lineS(pL1, dailyVolumeMA, '#5b9cf0', 1.6);
bars(pL2, dailyMomentum, 2, momColor(dailyMomentum));
hline(pL2, 0, dailyLastBar, '#a8a8a8', 2);
dailyDivergences.forEach(d => lineS(pL2, d, '#5b8f62', 1.3, 'solid', 6));
bars(pL3, dailyOscillator, 2, oscColor(dailyOscillator));
hline(pL3, 0, dailySlotCount - 1, '#8c8c92', 1, [5, 4]);

// ---- left pane 4 RSI
hline(pL4, 70, dailySlotCount - 1, '#8c8c92', 1, [5, 4]);
hline(pL4, 30, dailySlotCount - 1, '#8c8c92', 1, [5, 4]);
hline(pL4, 50, dailySlotCount - 1, '#77777c', 1.5);
lineS(pL4, dailyRsiMA, '#ff9f3a', 1.2);
lineS(pL4, dailyRsi, '#3f68d8', 1.1, 'solid', 5);
lineS(pL4, dailyRsiRed, '#f23645', 1.6, 'solid', 6);
lineS(pL4, dailyRsiGreen, '#3ea04a', 1.6, 'solid', 6);

// ---- left pane 5 stochastic
series.push({type: 'line', xAxisIndex: pL5, yAxisIndex: pL5, data: [], animation: false, silent: true, z: 1,
  markArea: {silent: true, animation: false, z: 1, data: [
    ...stochZones.map(z => [{xAxis: z[0], itemStyle: {color: z[2] === 'g' ? 'rgba(76,175,80,0.10)' : 'rgba(255,70,100,0.10)'}}, {xAxis: z[1] + 1}]),
    [{xAxis: 0, yAxis: 80, itemStyle: {color: 'rgba(110,70,170,0.07)'}}, {xAxis: dailySlotCount - 1, yAxis: 20}],
    [{xAxis: 16, yAxis: 98, itemStyle: {color: 'rgba(76,175,80,0.10)'}}, {xAxis: 42, yAxis: 80}],
    [{xAxis: 201, yAxis: 20, itemStyle: {color: 'rgba(255,70,100,0.16)'}}, {xAxis: 206, yAxis: 0}]
  ]}});
hline(pL5, 80, dailySlotCount - 1, '#26a69a', 1, [1.5, 2]);
hline(pL5, 50, dailySlotCount - 1, '#9e9e9e', 1, [1.5, 2]);
hline(pL5, 20, dailySlotCount - 1, '#ff9800', 1, [1.5, 2]);
const stochSegs = [];
for (let i = 0; i + 1 < stochBars.length; i++) stochSegs.push([stochBars[i], stochK[i], stochD[i], stochBars[i + 1], stochK[i + 1], stochD[i + 1]]);
series.push({type: 'custom', xAxisIndex: pL5, yAxisIndex: pL5, data: stochSegs, animation: false, silent: true, z: 4, encode: {x: [0, 3], y: [1, 2, 4, 5]},
  renderItem: (_, api) => {
    const a = api.value(0), k0 = api.value(1), d0 = api.value(2), b = api.value(3), k1 = api.value(4), d1 = api.value(5);
    const up = (k0 + k1) >= (d0 + d1);
    const c = up ? '#43a84c' : '#f85a63';
    const pa = api.coord([a, k0]), pb = api.coord([b, k1]), pc = api.coord([b, d1]), pd = api.coord([a, d0]);
    const st = {stroke: c, lineWidth: 1, fill: 'none'};
    return {type: 'group', children: [
      {type: 'polygon', shape: {points: [pa, pb, pc, pd]}, style: {fill: up ? 'rgba(76,175,80,0.42)' : 'rgba(248,90,99,0.36)'}},
      {type: 'line', shape: {x1: pa[0], y1: pa[1], x2: pb[0], y2: pb[1]}, style: st},
      {type: 'line', shape: {x1: pd[0], y1: pd[1], x2: pc[0], y2: pc[1]}, style: st}]};
  }});
series.push({type: 'scatter', xAxisIndex: pL5, yAxisIndex: pL5, data: stochGreenDots, symbolSize: 7, animation: false, silent: true, z: 6, itemStyle: {color: '#43a047'}});
series.push({type: 'scatter', xAxisIndex: pL5, yAxisIndex: pL5, data: stochRedDots, symbolSize: 7, animation: false, silent: true, z: 6, itemStyle: {color: '#ff5252'}});

// ---- right panes
candles(pR0, weeklyCandles, weeklyPriceTicks, 3, 0.9);
lineS(pR0, weeklyGreyMA, '#8a8a8a', 1, [4, 4]);
lineS(pR0, weeklyRedMA, '#f23645', 2);
lineS(pR0, weeklyGreenMA, '#43a84c', 2);
lineS(pR0, weeklyPurpleMA, '#9c27b0', 2);
arrow(pR0, weeklyArrowPrice, '#4d9a55', 0.85, 10, 17, 3.6, 1.2);
bars(pR1, weeklyVolumeM, 3.6, volColor(weeklyCandles));
lineS(pR1, weeklyVolumeMA, '#5b9cf0', 1.6);
bars(pR2, weeklyMomentum, 3.6, momColor(weeklyMomentum));
hline(pR2, 0, weeklyLastBar, '#a8a8a8', 2);
lineS(pR2, weeklyDivergence, '#5b8f62', 1.3, 'solid', 6);
series.push({type: 'custom', xAxisIndex: pR2, yAxisIndex: pR2, data: weeklyMomentumArrow, animation: false, silent: true, z: 6, clip: false, encode: {x: [0, 2], y: [1, 3]},
  renderItem: (_, api) => {
    const a = api.coord([api.value(0), api.value(1)]), b = api.coord([api.value(2), api.value(3)]);
    const st = {stroke: '#1b5e20', lineWidth: 1.6, fill: 'none'};
    return {type: 'group', children: [
      {type: 'line', shape: {x1: a[0], y1: a[1], x2: b[0], y2: b[1]}, style: st},
      {type: 'line', shape: {x1: b[0], y1: b[1], x2: b[0] - 13, y2: b[1] - 1}, style: st},
      {type: 'line', shape: {x1: b[0], y1: b[1], x2: b[0] - 1, y2: b[1] + 13}, style: st}]};
  }});
hline(pR3, 70, weeklySlotCount - 1, '#8c8c92', 1, [5, 4]);
hline(pR3, 30, weeklySlotCount - 1, '#8c8c92', 1, [5, 4]);
hline(pR3, 50, weeklySlotCount - 1, '#77777c', 1.5);
lineS(pR3, weeklyRsiMA, '#ff9f3a', 1.2);
lineS(pR3, weeklyRsi, '#3f68d8', 1.1, 'solid', 5);
lineS(pR3, weeklyRsiRed, '#f23645', 1.8, 'solid', 6);
arrow(pR3, weeklyArrowRsi, '#4caf50', 1, 8.7, 9.5, 4.5, 4.5);
bars(pR4, weeklyVolumeOscM, 3.6, oscColor(weeklyVolumeOscM));
hline(pR4, 0, weeklySlotCount - 1, '#8c8c92', 1, [5, 4]);
arrow(pR4, weeklyArrowOsc, '#4caf50', 1, 8.7, 9.5, 4.5, 4.5);

// ---- chrome
const seg = (x1, y1, x2, y2, c, w) => ({type: 'line', shape: {x1, y1, x2, y2}, style: {stroke: c, lineWidth: w || 1}, silent: true});
const txt = (x, y, t, o, sx) => ({type: 'text', x, y, scaleX: sx || 1, silent: true, style: Object.assign({text: t, fill: TXT, font: '11.5px ' + FONT, textVerticalAlign: 'middle'}, o || {})});
const graphics = [
  txt(9, 13, headerText, {fill: '#333'}, 0.91),
  txt(15, 36, dailyTitle, {fill: '#555'}, 0.913),
  txt(1027, 36, weeklyTitle, {fill: '#555'}, 0.912),
  seg(9, 23, 1012, 23, '#f0f0f0', 1), seg(1020, 23, 1594, 23, '#f0f0f0', 1),
  seg(9, 23, 9, 788, '#f0f0f0', 1), seg(1012, 23, 1012, 788, '#f0f0f0', 1),
  seg(1020, 23, 1020, 788, '#f0f0f0', 1), seg(1594, 23, 1594, 788, '#f0f0f0', 1),
  seg(9, 788, 1012, 788, '#f0f0f0', 1), seg(1020, 788, 1594, 788, '#f0f0f0', 1),
  seg(964, 764, 964, 788, SEP, 2), seg(1542.7, 765, 1542.7, 788, SEP, 2),
  ...[437.3, 475.7, 549.7, 600, 693, 764].map(y => seg(964, y, 1012, y, SEP, 1.5)),
  ...[527.3, 616.7, 679.3, 765].map(y => seg(1542.7, y, 1594, y, SEP, 1.5)),
  {type: 'rect', silent: true, shape: {x: 967, y: 27, width: 45, height: 22, r: 4}, style: {fill: '#fff', stroke: '#ececec', lineWidth: 1}},
  {type: 'rect', silent: true, shape: {x: 1546, y: 27, width: 45, height: 22, r: 4}, style: {fill: '#fff', stroke: '#ececec', lineWidth: 1}},
  txt(975, 38, 'USD', {fill: '#222'}), txt(1554, 38, 'USD', {fill: '#222'}),
  // TradingView logo
  {type: 'polygon', silent: true, shape: {points: [[10, 808], [23, 808], [23, 821], [17, 821], [17, 813.5], [10, 813.5]]}, style: {fill: '#131722'}},
  {type: 'circle', silent: true, shape: {cx: 27, cy: 811, r: 2.9}, style: {fill: '#131722'}},
  {type: 'polygon', silent: true, shape: {points: [[30.5, 808], [36.5, 808], [30, 821], [23.6, 821]]}, style: {fill: '#131722'}},
  txt(43, 815, 'TradingView', {fill: '#131722', font: '500 19px Roboto, ' + FONT})
];

chart.setOption({
  animation: false, backgroundColor: '#fff',
  textStyle: {fontFamily: FONT},
  grid: grids, xAxis: xAxes, yAxis: yAxes, series, graphic: {elements: graphics}
});
</script></body></html>
